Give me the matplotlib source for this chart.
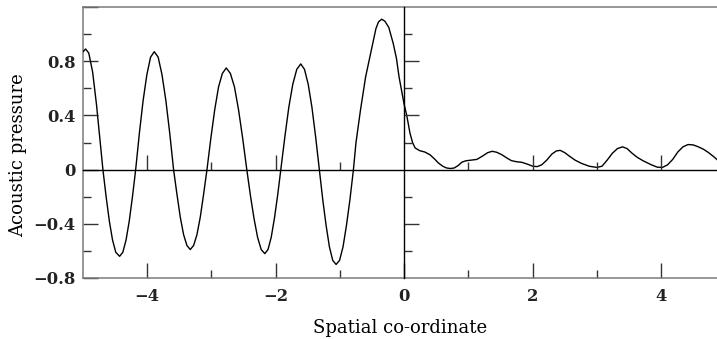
import matplotlib
matplotlib.use("Agg")
import matplotlib.pyplot as plt
from matplotlib.ticker import FixedLocator, FixedFormatter

plt.rcParams['font.family'] = ['DejaVu Serif']
plt.rcParams['font.size'] = 13

# values (spatial co-ordinate, acoustic pressure)
x_left = [-5.00, -4.96, -4.91, -4.85, -4.79, -4.74, -4.69,
          -4.64, -4.59, -4.54, -4.49, -4.43, -4.38, -4.33, -4.28, -4.23, -4.18,
          -4.122, -4.064, -4.006, -3.948, -3.89, -3.83, -3.77, -3.71, -3.65, -3.59,
          -3.538, -3.486, -3.434, -3.382, -3.33, -3.278, -3.226, -3.174, -3.122, -3.07,
          -3.01, -2.95, -2.89, -2.83, -2.77, -2.706, -2.642, -2.578, -2.514, -2.45,
          -2.394, -2.338, -2.282, -2.226, -2.17, -2.12, -2.07, -2.02, -1.97, -1.92,
          -1.858, -1.796, -1.734, -1.672, -1.61, -1.552, -1.494, -1.436, -1.378, -1.32,
          -1.268, -1.216, -1.164, -1.112, -1.06, -1.006, -0.952, -0.898, -0.844, -0.79,
          -0.75, -0.68, -0.60, -0.49, -0.44, -0.40, -0.35, -0.30, -0.24, -0.17, -0.12, -0.08]
p_left = [0.87, 0.89, 0.86, 0.72, 0.48, 0.24, 0.0,
          -0.20, -0.38, -0.52, -0.61, -0.64, -0.61, -0.52, -0.38, -0.20, 0.0,
          0.27, 0.51, 0.70, 0.83, 0.87, 0.83, 0.70, 0.51, 0.27, 0.0,
          -0.18, -0.35, -0.48, -0.56, -0.59, -0.56, -0.48, -0.35, -0.18, 0.0,
          0.23, 0.44, 0.61, 0.71, 0.75, 0.71, 0.61, 0.44, 0.23, 0.0,
          -0.19, -0.36, -0.50, -0.59, -0.62, -0.59, -0.50, -0.36, -0.19, 0.0,
          0.24, 0.46, 0.63, 0.74, 0.78, 0.74, 0.63, 0.46, 0.24, 0.0,
          -0.22, -0.41, -0.57, -0.67, -0.70, -0.67, -0.57, -0.41, -0.22, 0.0,
          0.20, 0.44, 0.685, 0.93, 1.04, 1.09, 1.11, 1.095, 1.05, 0.93, 0.82, 0.685]

x_right = [0.00, 0.04, 0.09, 0.13, 0.17, 0.24, 0.32, 0.40, 0.47, 0.53, 0.60, 0.66,
           0.72, 0.78, 0.84, 0.90, 0.96, 1.05, 1.13, 1.22, 1.30, 1.37, 1.44, 1.52,
           1.60, 1.67, 1.75, 1.83, 1.92, 2.00, 2.07, 2.14, 2.22, 2.30, 2.37, 2.43,
           2.50, 2.57, 2.66, 2.76, 2.88, 3.00, 3.08, 3.16, 3.24, 3.32, 3.40, 3.47,
           3.55, 3.63, 3.72, 3.85, 3.94, 4.02, 4.10, 4.18, 4.26, 4.34, 4.42, 4.50,
           4.58, 4.66, 4.74, 4.82, 4.88]
p_right = [0.48, 0.40, 0.27, 0.20, 0.16, 0.14, 0.13, 0.11, 0.08, 0.05, 0.025, 0.012,
           0.008, 0.012, 0.03, 0.055, 0.065, 0.07, 0.075, 0.10, 0.125, 0.135, 0.128, 0.11,
           0.085, 0.066, 0.058, 0.054, 0.04, 0.025, 0.022, 0.035, 0.07, 0.115, 0.138, 0.142,
           0.125, 0.10, 0.07, 0.046, 0.025, 0.016, 0.025, 0.07, 0.12, 0.155, 0.168, 0.155,
           0.12, 0.09, 0.065, 0.035, 0.018, 0.016, 0.035, 0.075, 0.13, 0.168, 0.185, 0.182,
           0.168, 0.15, 0.125, 0.095, 0.07]

x_major = [-4, -2, 0, 2, 4]
x_minor = [-3, -1, 1, 3]
x_labels = ['\u22124', '\u22122', '0', '2', '4']
y_major = [-0.8, -0.4, 0, 0.4, 0.8, 1.2]
y_minor = [-0.6, -0.2, 0.2, 0.6, 1.0]
y_labels = ['\u22120.8', '\u22120.4', '0', '0.4', '0.8', '']

XLIM = (-5, 4.87)
YLIM = (-0.8, 1.2)
pos = [83 / 717, 61 / 339, 634 / 717, 271 / 339]
frame = '#7a7a7a'

fig = plt.figure(figsize=(7.17, 3.39), dpi=100)
ax = fig.add_axes(pos)

ax.plot(x_left + x_right, p_left + p_right, color='black', lw=1.0, zorder=3)

ax.set_xlim(*XLIM)
ax.set_ylim(*YLIM)
ax.spines['right'].set_visible(False)
for s in ['left', 'top', 'bottom']:
    ax.spines[s].set_color(frame)
    ax.spines[s].set_linewidth(1.1)

ax.xaxis.set_major_locator(FixedLocator(x_major))
ax.xaxis.set_minor_locator(FixedLocator(x_minor))
ax.xaxis.set_major_formatter(FixedFormatter(x_labels))
ax.yaxis.set_major_locator(FixedLocator(y_major))
ax.yaxis.set_minor_locator(FixedLocator(y_minor))
ax.yaxis.set_major_formatter(FixedFormatter(y_labels))
ax.tick_params(which='both', direction='in', color='#333333', width=1.0,
               top=False, right=False)
ax.tick_params(which='major', length=10.8, labelsize=11.8)
ax.tick_params(which='minor', length=5.8)
ax.tick_params(axis='x', which='major', pad=7.5)
ax.tick_params(axis='y', which='major', pad=5.5)
for lab in ax.get_xticklabels() + ax.get_yticklabels():
    lab.set_fontweight('bold')
    lab.set_color('#222222')

ax.set_xlabel('Spatial co-ordinate', labelpad=10)
ax.set_ylabel('Acoustic pressure')
ax.yaxis.set_label_coords(-0.088, 0.454)

# second layer: the zero lines carry their own ticks
ax2 = fig.add_axes(pos)
ax2.patch.set_visible(False)
ax2.set_xlim(*XLIM)
ax2.set_ylim(*YLIM)
ax2.spines['left'].set_position(('data', 0))
ax2.spines['bottom'].set_position(('data', 0))
ax2.spines['right'].set_visible(False)
ax2.spines['top'].set_visible(False)
for s in ['left', 'bottom']:
    ax2.spines[s].set_color('black')
    ax2.spines[s].set_linewidth(1.0)
ax2.xaxis.set_major_locator(FixedLocator([-4, -2, 2, 4]))
ax2.xaxis.set_minor_locator(FixedLocator(x_minor))
ax2.yaxis.set_major_locator(FixedLocator([-0.4, 0.4, 0.8]))
ax2.yaxis.set_minor_locator(FixedLocator(y_minor))
ax2.tick_params(which='both', direction='in', color='#333333', width=1.0,
                top=False, right=False, labelbottom=False, labelleft=False)
ax2.tick_params(which='major', length=10.8)
ax2.tick_params(which='minor', length=5.8)

fig.savefig('out.png', dpi=100)
